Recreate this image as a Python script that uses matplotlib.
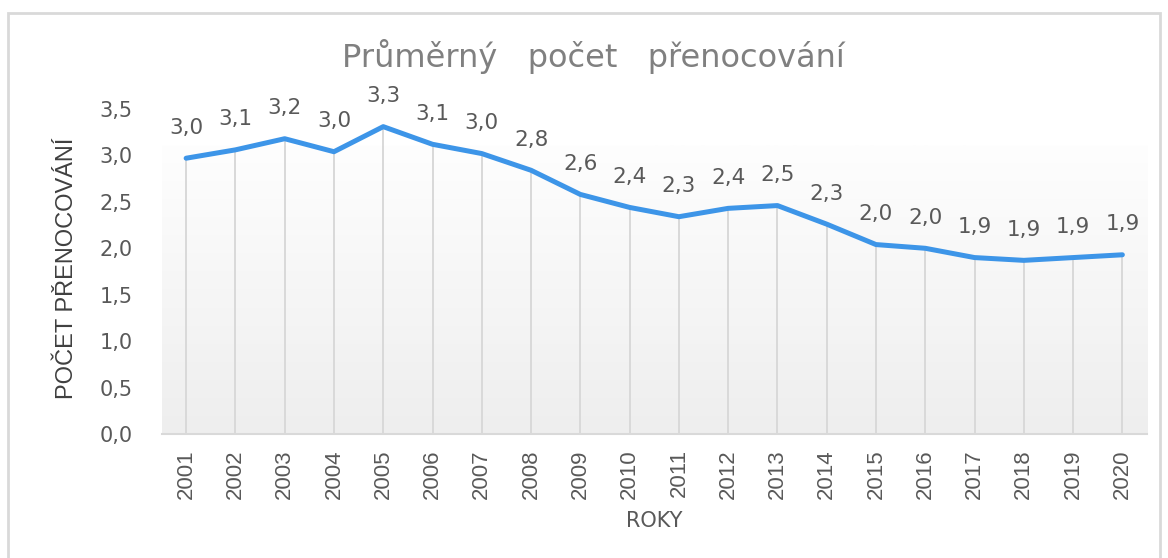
import numpy as np
import matplotlib
matplotlib.use("Agg")
import matplotlib.pyplot as plt
from matplotlib.patches import Rectangle

years = [str(y) for y in range(2001, 2021)]
values = [2.97, 3.06, 3.18, 3.04, 3.31, 3.12, 3.02, 2.84, 2.58, 2.44,
          2.34, 2.43, 2.46, 2.26, 2.04, 2.00, 1.90, 1.87, 1.90, 1.93]
yticks = [0.0, 0.5, 1.0, 1.5, 2.0, 2.5, 3.0, 3.5]

title = "Průměrný   počet   přenocování"
ylabel = "POČET PŘENOCOVÁNÍ"
xlabel = "ROKY"

wide = ["DejaVu Sans"]
narrow = ["Liberation Sans", "DejaVu Sans"]
grey = "#595959"

fig = plt.figure(figsize=(11.68, 5.58), dpi=100)
fig.patch.set_facecolor("white")

# chart border (bottom runs off the picture)
fig.patches.append(Rectangle((8 / 1168, -0.05), (1160 - 8) / 1168, 1.05 - 13 / 558,
                             transform=fig.transFigure, fill=False,
                             edgecolor="#d9d9d9", linewidth=2))

ax = fig.add_axes([161.5 / 1168, 1 - 434 / 558, (1147 - 161.5) / 1168, (434 - 109) / 558])
x = np.arange(len(years))
ax.set_xlim(-0.5, len(years) - 0.5)
ax.set_ylim(0, 3.5)

# soft vertical gradient in the plot area
grad = np.linspace(1.0, 0.0, 256).reshape(-1, 1)
ax.imshow(grad, extent=(-0.5, len(years) - 0.5, 0, 3.11), aspect="auto",
          cmap=matplotlib.colors.LinearSegmentedColormap.from_list("g", ["#eeeeee", "#fefefe"]),
          vmin=0, vmax=1, zorder=0)

# drop lines from each point to the axis
ax.vlines(x, 0, values, color="#d9d9d9", linewidth=1.4, zorder=1)

ax.plot(x, values, color="#3d95e8", linewidth=3.6, solid_joinstyle="round",
        solid_capstyle="round", zorder=3)

for xi, v in zip(x, values):
    ax.annotate(f"{v:.1f}".replace(".", ","), (xi, v), xytext=(0, 22),
                textcoords="offset points", ha="center", va="center",
                fontsize=15.5, color=grey, family=wide)

for s in ["top", "right", "left"]:
    ax.spines[s].set_visible(False)
ax.spines["bottom"].set_color("#d9d9d9")
ax.spines["bottom"].set_linewidth(1.5)
ax.spines["bottom"].set_zorder(2)

ax.set_xticks(x)
ax.set_xticklabels(years, rotation=90, fontsize=16, color=grey, family=narrow)
ax.set_yticks(yticks)
ax.set_yticklabels([f"{t:.1f}".replace(".", ",") for t in yticks],
                   fontsize=15, color=grey, family=wide)
ax.tick_params(axis="x", length=0, pad=11)
ax.tick_params(axis="y", length=0, pad=21)

ax.set_ylabel(ylabel, fontsize=17, color="#404040", family=narrow)
ax.yaxis.set_label_coords(-(161.5 - 67) / (1147 - 161.5), (434 - 268) / (434 - 109))
ax.set_xlabel(xlabel, fontsize=15, color=grey, family=wide)
ax.xaxis.set_label_coords(0.5, -(521 - 434) / (434 - 109))
ax.xaxis.label.set_va("center")
ax.yaxis.label.set_va("center")

fig.text(593 / 1168, 1 - 57 / 558, title, ha="center", va="center",
         fontsize=23, color="#808080", family=wide)

fig.savefig("out.png", dpi=100)
